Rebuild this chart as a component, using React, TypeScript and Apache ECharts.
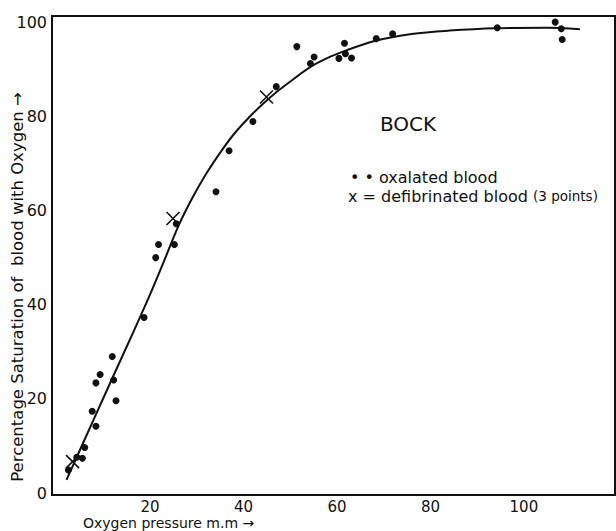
import React, { useEffect, useRef } from "react";
import * as echarts from "echarts";

const xTickLabels = [20, 40, 60, 80, 100];
const yTickLabels = [0, 20, 40, 60, 80, 100];

// oxalated blood (dots): [pressure mm, saturation %]
const oxalatedX = [2.5, 4.3, 5.5, 6.0, 8.4, 7.6, 8.4, 9.3, 11.9, 12.2, 12.7, 18.7, 21.2, 21.8, 25.2, 25.6, 34.1, 36.9, 42.0, 47.0, 51.4, 54.3, 55.1, 60.4, 61.6, 61.8, 63.1, 68.4, 71.9, 94.3, 106.7, 108.2, 108.0];
const oxalatedY = [4.9, 7.6, 7.4, 9.7, 14.2, 17.4, 23.4, 25.2, 29.0, 24.0, 19.6, 37.3, 50.0, 52.8, 52.8, 57.2, 64.0, 72.7, 78.9, 86.3, 94.8, 91.2, 92.6, 92.3, 95.5, 93.3, 92.4, 96.5, 97.5, 98.8, 100.0, 96.3, 98.6];

// defibrinated blood (crosses)
const defibX = [3.4, 24.9, 44.9];
const defibY = [6.7, 58.3, 84.1];

// fitted curve
const curveX = [2.1, 5, 8, 12, 16, 20, 23, 26, 29, 32, 35, 38, 41, 44, 47, 50, 54, 58, 62, 68, 76, 84, 94, 105, 112];
const curveY = [2.8, 9.2, 15.8, 24.6, 33.3, 42.2, 49.3, 56.6, 62.6, 67.8, 72.3, 76.3, 79.6, 82.5, 85.1, 87.4, 90.3, 92.4, 94.0, 96.0, 97.5, 98.2, 98.7, 98.8, 98.5];

const zip = (a: number[], b: number[]) => a.map((v, i) => [v, b[i]]);

const FONT = "'DejaVu Sans', sans-serif";

export default function App() {
  const ref = useRef<HTMLDivElement>(null);
  useEffect(() => {
    if (!ref.current) return;
    const chart = echarts.init(ref.current, null, { renderer: "svg" });
    chart.setOption({
      animation: false,
      backgroundColor: "#ffffff",
      grid: {
        left: 52,
        right: 1,
        top: 16,
        bottom: 36,
        show: true,
        borderColor: "#111",
        borderWidth: 2,
        backgroundColor: "transparent",
      },
      xAxis: {
        type: "value",
        min: -1,
        max: 119.5,
        axisLine: { show: true, onZero: false, lineStyle: { color: "#111", width: 2 } },
        axisTick: { show: false },
        splitLine: { show: false },
        axisLabel: {
          customValues: xTickLabels,
          color: "#111",
          fontSize: 15,
          fontFamily: FONT,
          margin: 4,
        },
      },
      yAxis: {
        type: "value",
        min: -0.4,
        max: 101.3,
        axisLine: { show: true, onZero: false, lineStyle: { color: "#111", width: 2 } },
        axisTick: { show: false },
        splitLine: { show: false },
        axisLabel: {
          customValues: yTickLabels,
          color: "#111",
          fontSize: 16,
          fontFamily: FONT,
          margin: 5,
        },
      },
      series: [
        {
          type: "line",
          data: zip(curveX, curveY),
          smooth: 0.3,
          showSymbol: false,
          lineStyle: { color: "#111", width: 2 },
          z: 2,
        },
        {
          type: "scatter",
          data: zip(oxalatedX, oxalatedY),
          symbol: "circle",
          symbolSize: 7,
          itemStyle: { color: "#111", opacity: 1 },
          z: 3,
        },
        {
          type: "scatter",
          data: zip(defibX, defibY),
          symbol: "path://M0,0L10,10M10,0L0,10",
          symbolSize: 13,
          itemStyle: { color: "none", borderColor: "#111", borderWidth: 1.6, opacity: 1 },
          z: 3,
        },
      ],
      graphic: [
        {
          type: "text",
          x: 380,
          y: 114,
          style: { text: "BOCK", fontSize: 20, fontFamily: FONT, fill: "#111" },
        },
        {
          type: "text",
          x: 350,
          y: 169,
          style: { text: "• • oxalated blood", fontSize: 16, fontFamily: FONT, fill: "#111" },
        },
        {
          type: "text",
          x: 348,
          y: 188,
          style: {
            text: "x = defibrinated blood {s|(3 points)}",
            fontSize: 16,
            fontFamily: FONT,
            fill: "#111",
            rich: { s: { fontSize: 13.5, fontFamily: FONT, fill: "#111" } },
          },
        },
        {
          type: "text",
          x: 17,
          y: 287,
          rotation: Math.PI / 2,
          style: {
            text: "Percentage Saturation of  blood with Oxygen →",
            fontSize: 16.5,
            fontFamily: FONT,
            fill: "#111",
            align: "center",
            verticalAlign: "middle",
          },
        },
        {
          type: "text",
          x: 83,
          y: 516,
          style: {
            text: "Oxygen pressure m.m →",
            fontSize: 14,
            fontFamily: FONT,
            fill: "#111",
            verticalAlign: "top",
          },
        },
      ],
    });
    return () => chart.dispose();
  }, []);
  return <div ref={ref} style={{ width: 616, height: 531, position: "absolute", left: 0, top: 0 }} />;
}
